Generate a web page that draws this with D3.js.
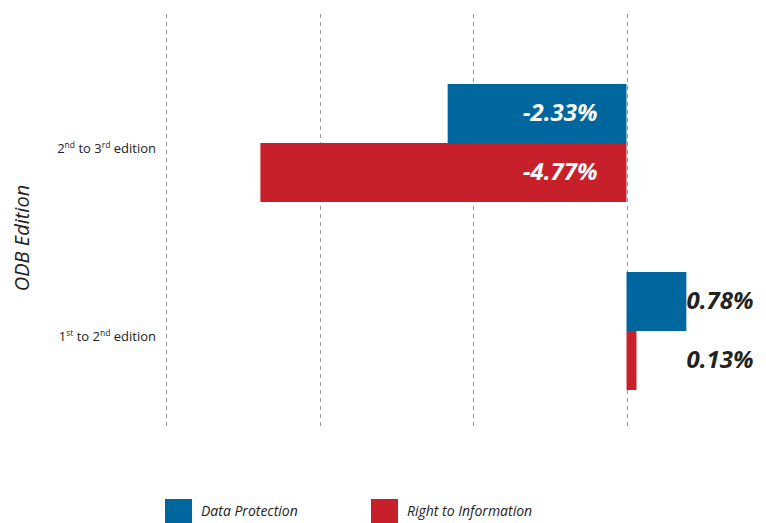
<!DOCTYPE html>
<html>
<head>
<meta charset="utf-8">
<script src="https://cdn.jsdelivr.net/npm/d3@7"></script>
<style>
  body { margin: 0; background: #fff; }
  text { font-family: "Open Sans", sans-serif; }
</style>
</head>
<body>
<svg id="chart" width="766" height="523"></svg>
<script>
var categories = ["2nd to 3rd edition", "1st to 2nd edition"];
var catLabels = [
  [["2", false], ["nd", true], [" to 3", false], ["rd", true], [" edition", false]],
  [["1", false], ["st", true], [" to 2", false], ["nd", true], [" edition", false]]
];
var seriesNames = ["Data Protection", "Right to Information"];
var dataProtection = [-2.33, 0.78];
var rightToInfo = [-4.77, 0.13];
var gridTicks = [-6, -4, -2, 0];
var colors = ["#00669e", "#c8202a"];

var svg = d3.select("#chart");

var x = d3.scaleLinear().domain([-6, 0]).range([166, 626.5]);
var y = d3.scaleBand().domain(categories).range([49, 425]);
var inner = d3.scaleBand().domain(seriesNames).range([-59, 59]);

// dashed vertical grid
svg.append("g").selectAll("line")
  .data(gridTicks)
  .enter().append("line")
  .attr("x1", function(d) { return Math.round(x(d)) + 0.5; })
  .attr("x2", function(d) { return Math.round(x(d)) + 0.5; })
  .attr("y1", 14)
  .attr("y2", 427)
  .attr("stroke", "#9a9a9a")
  .attr("stroke-width", 1)
  .attr("stroke-dasharray", "4,4");

var rows = [];
categories.forEach(function(c, i) {
  rows.push({ cat: c, series: seriesNames[0], value: dataProtection[i], color: colors[0] });
  rows.push({ cat: c, series: seriesNames[1], value: rightToInfo[i], color: colors[1] });
});

var bars = svg.append("g");
bars.selectAll("rect")
  .data(rows)
  .enter().append("rect")
  .attr("x", function(d) { return Math.min(x(d.value), x(0)); })
  .attr("width", function(d) { return Math.abs(x(d.value) - x(0)); })
  .attr("y", function(d) { return y(d.cat) + y.bandwidth() / 2 + inner(d.series); })
  .attr("height", inner.bandwidth())
  .attr("fill", function(d) { return d.color; });

bars.selectAll("text")
  .data(rows)
  .enter().append("text")
  .attr("x", function(d) { return d.value < 0 ? x(0) - 29 : x(0) + 60; })
  .attr("y", function(d) { return y(d.cat) + y.bandwidth() / 2 + inner(d.series) + inner.bandwidth() / 2 - 1; })
  .attr("dy", "0.36em")
  .attr("text-anchor", function(d) { return d.value < 0 ? "end" : "start"; })
  .attr("font-size", 24)
  .attr("font-weight", "bold")
  .attr("font-style", "italic")
  .attr("fill", function(d) { return d.value < 0 ? "#fff" : "#222"; })
  .text(function(d) { return d.value.toFixed(2) + "%"; });

// category labels with superscripts
var cl = svg.append("g").selectAll("text")
  .data(categories)
  .enter().append("text")
  .attr("x", 156)
  .attr("y", function(d) { return y(d) + y.bandwidth() / 2 + 10; })
  .attr("text-anchor", "end")
  .attr("font-size", 13)
  .attr("fill", "#222");
cl.each(function(d, i) {
  var t = d3.select(this);
  catLabels[i].forEach(function(p, j) {
    var s = t.append("tspan").text(p[0]);
    if (p[1]) s.attr("font-size", 8.5).attr("dy", -5);
    else if (j > 0 && catLabels[i][j - 1][1]) s.attr("dy", 5);
  });
});

svg.append("text")
  .attr("transform", "translate(29,238) rotate(-90)")
  .attr("text-anchor", "middle")
  .attr("font-size", 20)
  .attr("font-style", "italic")
  .attr("fill", "#222")
  .text("ODB Edition");

// legend
var legendX = [165, 371];
var lg = svg.append("g").selectAll("g")
  .data(seriesNames)
  .enter().append("g")
  .attr("transform", function(d, i) { return "translate(" + legendX[i] + ",499)"; });
lg.append("rect")
  .attr("width", 27)
  .attr("height", 24)
  .attr("fill", function(d, i) { return colors[i]; });
lg.append("text")
  .attr("x", 36)
  .attr("y", 17)
  .attr("font-size", 14)
  .attr("font-style", "italic")
  .attr("fill", "#222")
  .text(function(d) { return d; });
</script>
</body>
</html>
